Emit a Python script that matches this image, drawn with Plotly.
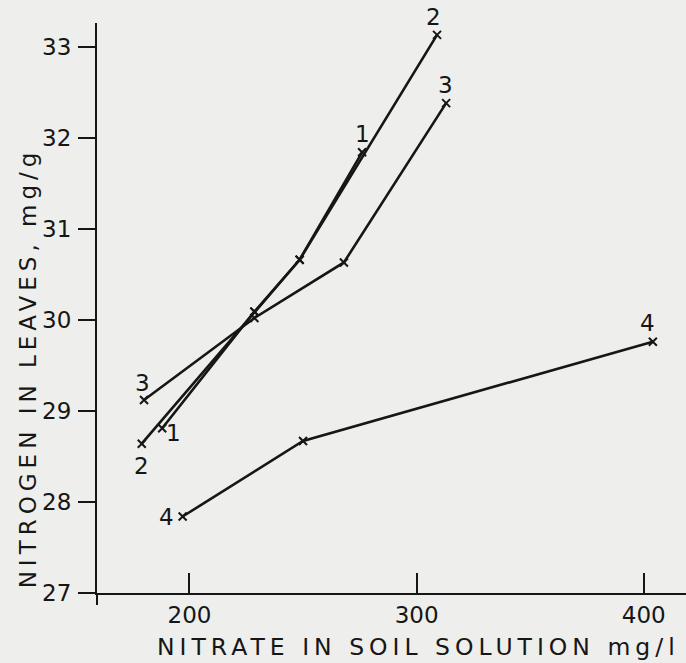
import plotly.graph_objects as go

# ---- data ----
s1_x = [188, 228.6, 248.5, 276]
s1_y = [28.81, 30.09, 30.66, 31.84]
s2_x = [179, 228.6, 248.5, 309]
s2_y = [28.64, 30.09, 30.66, 33.13]
s3_x = [180, 228.6, 268, 313]
s3_y = [29.12, 30.02, 30.63, 32.38]
s4_x = [197, 250, 404]
s4_y = [27.84, 28.67, 29.76]
series_names = ["1", "2", "3", "4"]

x_ticks = [200, 300, 400]
y_ticks = [27, 28, 29, 30, 31, 32, 33]
x_title = "NITRATE IN SOIL SOLUTION mg/l"
y_title = "NITROGEN IN LEAVES, mg/g"

INK = "#161616"
BG = "#eeeeec"
FONT = "DejaVu Sans"


def spaced(t, px):
    return '<span style="letter-spacing:%dpx">%s</span>' % (px, t)


fig = go.Figure()
for name, xs, ys in zip(series_names, [s1_x, s2_x, s3_x, s4_x], [s1_y, s2_y, s3_y, s4_y]):
    fig.add_trace(go.Scatter(
        x=xs, y=ys, name=name, mode="lines+markers",
        line=dict(color=INK, width=2.6),
        marker=dict(symbol="x-thin", size=8, line=dict(width=2, color=INK), color=INK),
        showlegend=False,
    ))

# end labels (anchored on data endpoints, pixel offsets only)
label_specs = [
    (s1_x[-1], s1_y[-1], "1", 0, 18), (s1_x[0], s1_y[0], "1", 11, -5),
    (s2_x[-1], s2_y[-1], "2", -4, 18), (s2_x[0], s2_y[0], "2", 0, -22),
    (s3_x[-1], s3_y[-1], "3", -1, 18), (s3_x[0], s3_y[0], "3", -2, 17),
    (s4_x[-1], s4_y[-1], "4", -5, 19), (s4_x[0], s4_y[0], "4", -16, 0),
]
annotations = []
for x, y, t, dx, dy in label_specs:
    annotations.append(dict(x=x, y=y, xref="x", yref="y", text=t, showarrow=False,
                            xshift=dx, yshift=dy, font=dict(family=FONT, size=23, color=INK)))

annotations.append(dict(text=spaced(x_title, 5), xref="paper", yref="paper", x=0.545, y=-0.095,
                        xanchor="center", yanchor="middle", showarrow=False,
                        font=dict(family=FONT, size=23.5, color=INK)))
annotations.append(dict(text=spaced(y_title, 5), xref="paper", yref="paper", x=-0.118, y=0.395,
                        xanchor="center", yanchor="middle", showarrow=False, textangle=-90,
                        font=dict(family=FONT, size=23, color=INK)))

shapes = [
    # overhang of the crossed axes
    dict(type="line", xref="paper", yref="paper", x0=0, x1=0, y0=0, y1=-0.021,
         line=dict(color=INK, width=2)),
    dict(type="line", xref="paper", yref="paper", x0=0, x1=-0.02, y0=0, y1=0,
         line=dict(color=INK, width=2)),
]

fig.update_layout(
    width=686, height=663,
    margin=dict(l=97, r=0, t=23, b=70, autoexpand=False),
    paper_bgcolor=BG, plot_bgcolor=BG,
    font=dict(family=FONT, color=INK),
    annotations=annotations, shapes=shapes,
)
fig.update_xaxes(range=[159.3, 418.6], tickvals=x_ticks, ticks="inside", ticklen=20,
                 tickwidth=2, tickcolor=INK, showline=True, linecolor=INK, linewidth=2,
                 showgrid=False, zeroline=False, mirror=False, automargin=False,
                 tickfont=dict(family=FONT, size=23, color=INK))
fig.update_yaxes(range=[27, 33.26], tickvals=y_ticks, ticks="outside", ticklen=17,
                 tickwidth=2, tickcolor=INK, showline=True, linecolor=INK, linewidth=2,
                 showgrid=False, zeroline=False, mirror=False, automargin=False,
                 ticklabelstandoff=2,
                 tickfont=dict(family=FONT, size=23, color=INK))

fig.write_html("out.html", config={"displayModeBar": False},
               post_script="document.body.style.margin='0';document.body.style.background='%s';" % BG)
